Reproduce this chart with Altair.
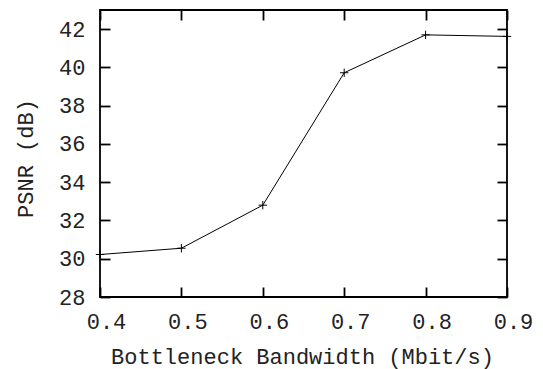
import altair as alt
import pandas as pd

bandwidth = [0.4, 0.5, 0.6, 0.7, 0.8, 0.9]
psnr = [30.22, 30.55, 32.8, 39.72, 41.7, 41.62]
x_ticks = [0.4, 0.5, 0.6, 0.7, 0.8, 0.9]
y_ticks = [28, 30, 32, 34, 36, 38, 40, 42]

df = pd.DataFrame({"bw": bandwidth, "psnr": psnr})

FONT = "Liberation Mono"
TXT = "#222222"
xs = alt.Scale(domain=[0.4, 0.9], nice=False, zero=False)
ys = alt.Scale(domain=[28, 43], nice=False, zero=False)

def tick_axis(orient, values):
    return alt.Axis(orient=orient, values=values, offset=-10, tickSize=10,
                    tickWidth=1.8, tickColor="black", labels=False, domain=False,
                    grid=False, title=None)

x_lab = alt.Axis(orient="bottom", values=x_ticks, ticks=False, domain=False, grid=False,
                 labelFont=FONT, labelFontSize=22, labelColor=TXT, labelPadding=31,
                 labelBaseline="alphabetic", labelOffset=6, format=".1f", labelFlush=False,
                 title="Bottleneck Bandwidth (Mbit/s)", titleFont=FONT, titleFontSize=22,
                 titleFontWeight="normal", titleColor=TXT, titleBaseline="alphabetic",
                 titleX=202, titleY=66)
y_lab = alt.Axis(orient="left", values=y_ticks, ticks=False, domain=False, grid=False,
                 labelFont=FONT, labelFontSize=22, labelColor=TXT, labelPadding=15,
                 labelFlush=False,
                 title="PSNR (dB)", titleFont=FONT, titleFontSize=22,
                 titleFontWeight="normal", titleColor=TXT, titleBaseline="alphabetic",
                 titleX=-68, titleY=148, titleAngle=270)

base = alt.Chart(df)
line = base.mark_line(color="black", strokeWidth=1, clip=False).encode(
    x=alt.X("bw:Q", scale=xs, axis=x_lab),
    y=alt.Y("psnr:Q", scale=ys, axis=y_lab),
)
pts = base.mark_point(shape="M-1,0L1,0M0,-1L0,1", size=70, color="black",
                      strokeWidth=1, filled=False, opacity=1, clip=False).encode(
    x=alt.X("bw:Q", scale=xs, axis=tick_axis("bottom", x_ticks)),
    y=alt.Y("psnr:Q", scale=ys, axis=tick_axis("left", y_ticks)),
)
ghost = base.mark_point(opacity=0).encode(
    x=alt.X("bw:Q", scale=xs, axis=tick_axis("top", x_ticks)),
    y=alt.Y("psnr:Q", scale=ys, axis=tick_axis("right", y_ticks)),
)

chart = alt.layer(line, pts, ghost).resolve_axis(x="independent", y="independent").properties(
    width=407, height=287,
    autosize=alt.AutoSizeParams(type="none"),
    padding={"left": 100, "top": 10, "right": 36, "bottom": 72},
    background="white",
).configure_view(stroke="black", strokeWidth=1.8)

chart.save("out.html", embed_options={"renderer": "svg", "actions": False})
